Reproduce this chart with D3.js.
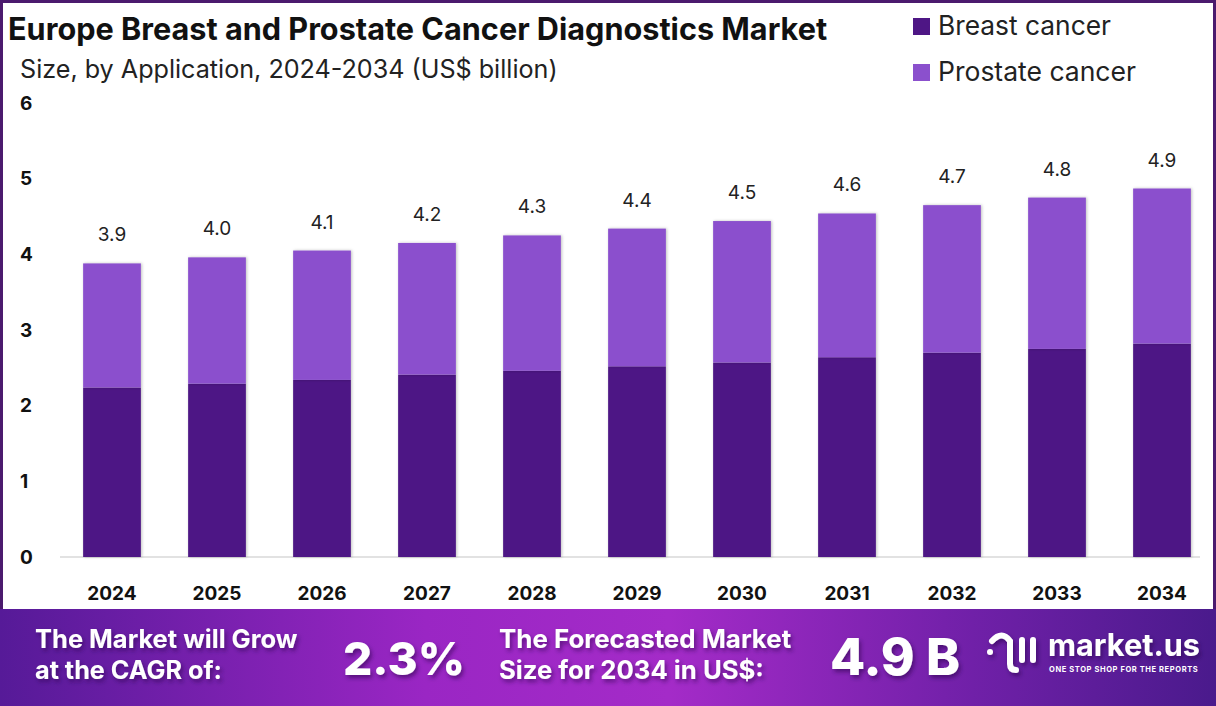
<!DOCTYPE html>
<html>
<head>
<meta charset="utf-8">
<script src="https://cdn.jsdelivr.net/npm/d3@7"></script>
<style>
  body { margin: 0; background: #fff; }
  svg { display: block; font-family: "Inter", "Noto Sans", sans-serif; }
</style>
</head>
<body>
<svg id="chart" width="1216" height="706"></svg>
<script>
// Data (US$ billion)
const years = ["2024", "2025", "2026", "2027", "2028", "2029", "2030", "2031", "2032", "2033", "2034"];
const breast = [2.24, 2.29, 2.34, 2.41, 2.46, 2.52, 2.57, 2.64, 2.70, 2.75, 2.82];
const prostate = [1.64, 1.67, 1.71, 1.74, 1.79, 1.82, 1.87, 1.90, 1.95, 2.00, 2.05];
const totalLabels = ["3.9", "4.0", "4.1", "4.2", "4.3", "4.4", "4.5", "4.6", "4.7", "4.8", "4.9"];
const yTicks = [0, 1, 2, 3, 4, 5, 6];
const seriesNames = ["Breast cancer", "Prostate cancer"];
const colors = ["#4e1685", "#8b50cd"];

const width = 1216, height = 706;
const svg = d3.select("#chart");

// fit a text to a target width by scaling its font size
function fit(sel, target) {
  const w = sel.node().getBBox().width;
  const fs = parseFloat(sel.attr("font-size"));
  sel.attr("font-size", fs * target / w);
  return sel;
}

const defs = svg.append("defs");
const grad = defs.append("linearGradient").attr("id", "banner").attr("x1", 0).attr("x2", 1).attr("y1", 0).attr("y2", 0);
grad.append("stop").attr("offset", "0%").attr("stop-color", "#561a98");
grad.append("stop").attr("offset", "35%").attr("stop-color", "#9a26c4");
grad.append("stop").attr("offset", "55%").attr("stop-color", "#a42bc8");
grad.append("stop").attr("offset", "80%").attr("stop-color", "#7020a8");
grad.append("stop").attr("offset", "100%").attr("stop-color", "#4a1a8c");

const shadow = defs.append("filter").attr("id", "tshadow").attr("x", "-10%").attr("y", "-10%").attr("width", "130%").attr("height", "140%");
shadow.append("feDropShadow").attr("dx", 2).attr("dy", 3).attr("stdDeviation", 2)
  .attr("flood-color", "#2a0648").attr("flood-opacity", 0.55);

const barShadow = defs.append("filter").attr("id", "bshadow").attr("x", "-20%").attr("y", "-5%").attr("width", "140%").attr("height", "110%");
barShadow.append("feDropShadow").attr("dx", 1).attr("dy", 0).attr("stdDeviation", 1.5)
  .attr("flood-color", "#000").attr("flood-opacity", 0.25);

// Frame
svg.append("rect").attr("x", 1.5).attr("y", 1.5).attr("width", width - 3).attr("height", height - 3)
  .attr("fill", "#fff").attr("stroke", "#4b1a6e").attr("stroke-width", 3);

// Scales
const x = d3.scaleBand().domain(years).range([59.5, 1214.5]).paddingInner(0.45).paddingOuter(0.225);
const y = d3.scaleLinear().domain([0, 6]).range([557, 103]);

// Baseline
svg.append("line").attr("x1", 60).attr("x2", 1200).attr("y1", y(0)).attr("y2", y(0))
  .attr("stroke", "#d9d9d9").attr("stroke-width", 1.5);

// Y axis labels
const yAxis = d3.axisLeft(y).tickValues(yTicks).tickSize(0).tickFormat(d3.format("d"));
const yg = svg.append("g").attr("transform", "translate(33,0)").call(yAxis);
yg.select(".domain").remove();
yg.selectAll("text").attr("font-size", 19).attr("font-weight", 700).attr("fill", "#111")
  .attr("font-family", "Inter, sans-serif").attr("text-anchor", "start").attr("x", -13);

// X axis labels
const xAxis = d3.axisBottom(x).tickSize(0);
const xg = svg.append("g").attr("transform", `translate(0,${y(0)})`).call(xAxis);
xg.select(".domain").remove();
xg.selectAll("text").attr("font-size", 19).attr("font-weight", 700).attr("fill", "#111")
  .attr("font-family", "Inter, sans-serif").attr("dy", 0).attr("y", 43);

// Stacked bars
const rows = years.map((yr, i) => ({ year: yr, breast: breast[i], prostate: prostate[i] }));
const stack = d3.stack().keys(["breast", "prostate"])(rows);

svg.append("g").selectAll("g").data(stack).join("g")
  .attr("fill", (d, i) => colors[i])
  .selectAll("rect").data(d => d).join("rect")
  .attr("x", d => x(d.data.year))
  .attr("y", d => y(d[1]))
  .attr("width", x.bandwidth())
  .attr("height", d => y(d[0]) - y(d[1]))
  .attr("filter", "url(#bshadow)");

// Total labels
svg.append("g").selectAll("text").data(rows).join("text")
  .attr("x", d => x(d.year) + x.bandwidth() / 2)
  .attr("y", d => y(d.breast + d.prostate) - 22)
  .attr("text-anchor", "middle")
  .attr("font-size", 19).attr("fill", "#222")
  .text((d, i) => totalLabels[i]);

// Title and subtitle
fit(svg.append("text").attr("x", 8).attr("y", 40).attr("font-size", 26).attr("font-weight", 700)
  .attr("fill", "#111").text("Europe Breast and Prostate Cancer Diagnostics Market"), 820);
fit(svg.append("text").attr("x", 20).attr("y", 78).attr("font-size", 21).attr("fill", "#222")
  .text("Size, by Application, 2024-2034 (US$ billion)"), 538);

// Legend
const legend = svg.append("g");
seriesNames.forEach((name, i) => {
  const ly = 18 + i * 46;
  legend.append("rect").attr("x", 913).attr("y", ly).attr("width", 17).attr("height", 17).attr("fill", colors[i]);
  legend.append("text").attr("x", 938).attr("y", ly + 17).attr("font-size", 22).attr("fill", "#222").text(name);
});
fit(legend.selectAll("text").filter((d, i) => i === 0), 173);
fit(legend.selectAll("text").filter((d, i) => i === 1), 198);

// Banner
svg.append("rect").attr("x", 0).attr("y", 609).attr("width", width).attr("height", height - 609).attr("fill", "url(#banner)");

const banner = svg.append("g").attr("fill", "#fff").attr("font-weight", 700).attr("filter", "url(#tshadow)");
fit(banner.append("text").attr("x", 35).attr("y", 648).attr("font-size", 23).text("The Market will Grow"), 263);
fit(banner.append("text").attr("x", 35).attr("y", 679).attr("font-size", 23).text("at the CAGR of:"), 187);
fit(banner.append("text").attr("x", 343).attr("y", 675).attr("font-size", 52).attr("font-weight", 800).text("2.3%"), 122);
fit(banner.append("text").attr("x", 499).attr("y", 648).attr("font-size", 23).text("The Forecasted Market"), 293);
fit(banner.append("text").attr("x", 499).attr("y", 679).attr("font-size", 23).text("Size for 2034 in US$:"), 265);
fit(banner.append("text").attr("x", 830).attr("y", 675).attr("font-size", 52).attr("font-weight", 800).text("4.9 B"), 130);

// Logo
const logo = svg.append("g").attr("fill", "none").attr("stroke", "#fff").attr("stroke-linecap", "round").attr("filter", "url(#tshadow)");
logo.append("circle").attr("cx", 990).attr("cy", 652).attr("r", 3).attr("fill", "#fff").attr("stroke", "none");
logo.append("path").attr("d", "M992,641 Q1002,630 1010,641 L1010,664 Q1010,670 1016,670").attr("stroke-width", 6);
logo.append("line").attr("x1", 1022).attr("y1", 640).attr("x2", 1022).attr("y2", 660).attr("stroke-width", 6);
logo.append("line").attr("x1", 1033).attr("y1", 640).attr("x2", 1033).attr("y2", 660).attr("stroke-width", 6);
fit(svg.append("text").attr("x", 1048).attr("y", 656).attr("font-size", 34).attr("font-weight", 700)
  .attr("fill", "#fff").attr("filter", "url(#tshadow)").text("market.us"), 152);
fit(svg.append("text").attr("x", 1049).attr("y", 672).attr("font-size", 7).attr("font-weight", 700)
  .attr("fill", "#fff").attr("letter-spacing", 0.6).text("ONE STOP SHOP FOR THE REPORTS"), 151);
</script>
</body>
</html>
